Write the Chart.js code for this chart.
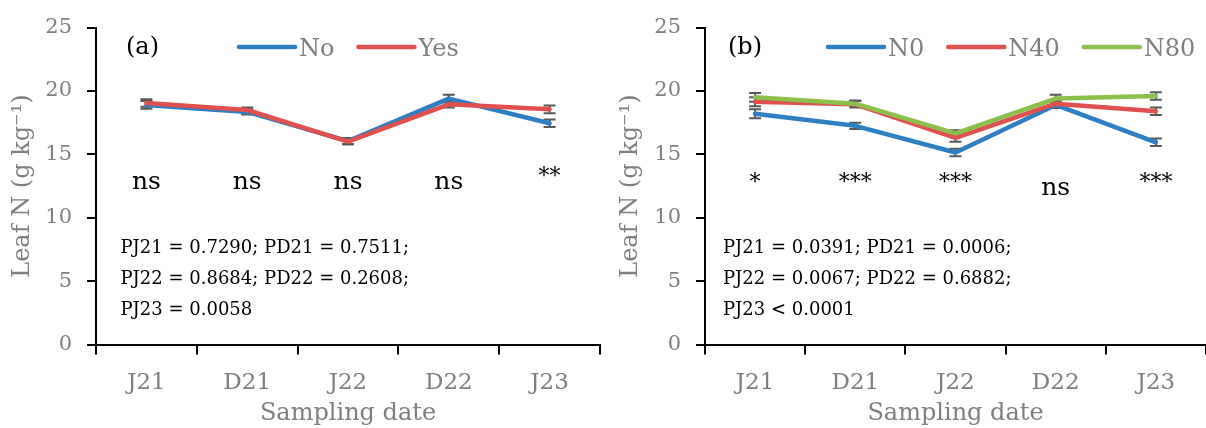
<!DOCTYPE html>
<html>
<head>
<meta charset="utf-8">
<script src="https://cdn.jsdelivr.net/npm/chart.js@4.4.1/dist/chart.umd.min.js"></script>
<style>
  html, body { margin: 0; padding: 0; background: #fff; }
  #wrap { position: relative; width: 1206px; height: 428px; overflow: hidden; }
  canvas { position: absolute; top: 0; }
  #chartA { left: 0; }
  #chartB { left: 603px; }
</style>
</head>
<body>
<div id="wrap">
  <canvas id="chartA" width="603" height="428"></canvas>
  <canvas id="chartB" width="603" height="428"></canvas>
</div>
<script>
// sampling dates and y ticks
const dates = ['J21', 'D21', 'J22', 'D22', 'J23'];
const yMin = 0, yMax = 25, yStep = 5;

// panel (a) - No / Yes
const noMeans  = [18.9, 18.35, 16.05, 19.4, 17.45];
const noErr    = [0.3, 0.2, 0.25, 0.3, 0.3];
const yesMeans = [19.05, 18.5, 16.0, 18.95, 18.55];
const yesErr   = [0.3, 0.2, 0.2, 0.25, 0.3];
const sigA = ['ns', 'ns', 'ns', 'ns', '**'];
const notesA = ['PJ21 = 0.7290; PD21 = 0.7511;', 'PJ22 = 0.8684; PD22 = 0.2608;', 'PJ23 = 0.0058'];

// panel (b) - N0 / N40 / N80
const n0Means  = [18.2, 17.25, 15.15, 18.9, 15.95];
const n0Err    = [0.35, 0.25, 0.3, 0.25, 0.3];
const n40Means = [19.15, 18.95, 16.3, 19.0, 18.4];
const n40Err   = [0.35, 0.25, 0.3, 0.3, 0.3];
const n80Means = [19.5, 19.0, 16.65, 19.4, 19.6];
const n80Err   = [0.35, 0.25, 0.25, 0.3, 0.3];
const sigB = ['*', '***', '***', 'ns', '***'];
const notesB = ['PJ21 = 0.0391; PD21 = 0.0006;', 'PJ22 = 0.0067; PD22 = 0.6882;', 'PJ23 < 0.0001'];

const BLUE = '#2E7EC4', RED = '#E0504F', GREEN = '#8CBF4C';
const GREY = '#7f7f7f';
const FONT = '"DejaVu Serif", serif';

// error bars under the lines
const errorBars = {
  id: 'errorBars',
  beforeDatasetsDraw(chart) {
    const { ctx, scales: { x, y } } = chart;
    ctx.save();
    ctx.strokeStyle = '#595959';
    ctx.lineWidth = 2;
    chart.data.datasets.forEach(ds => {
      ds.data.forEach((v, i) => {
        const e = ds.errors[i];
        const px = x.getPixelForValue(i);
        const top = y.getPixelForValue(v + e);
        const bot = y.getPixelForValue(v - e);
        ctx.beginPath();
        ctx.moveTo(px, top); ctx.lineTo(px, bot);
        ctx.moveTo(px - 6, top); ctx.lineTo(px + 6, top);
        ctx.moveTo(px - 6, bot); ctx.lineTo(px + 6, bot);
        ctx.stroke();
      });
    });
    ctx.restore();
  }
};

// panel letter, legend, significance marks and p-values
const panelNotes = {
  id: 'panelNotes',
  afterDraw(chart, args, o) {
    const { ctx, chartArea, scales: { x, y } } = chart;
    ctx.save();
    ctx.fillStyle = '#000';
    ctx.textBaseline = 'alphabetic';

    ctx.font = '24px ' + FONT;
    ctx.textAlign = 'left';
    ctx.fillText(o.letter, chartArea.left + o.letterDx, 54);

    // legend
    let lx = chartArea.left + o.legendDx;
    ctx.font = '24px ' + FONT;
    chart.data.datasets.forEach(ds => {
      ctx.strokeStyle = ds.borderColor;
      ctx.lineWidth = 4.5;
      ctx.lineCap = 'round';
      ctx.beginPath();
      ctx.moveTo(lx, 47);
      ctx.lineTo(lx + 56, 47);
      ctx.stroke();
      ctx.fillStyle = GREY;
      ctx.fillText(ds.label, lx + 60, 56);
      lx += 60 + ctx.measureText(ds.label).width + 24;
    });

    // significance (asterisks sit a little higher than in DejaVu)
    ctx.fillStyle = '#000';
    ctx.textAlign = 'center';
    o.sig.forEach((s, i) => {
      const ns = s === 'ns';
      ctx.font = (ns ? '25px ' : '22px ') + FONT;
      ctx.fillText(s, x.getPixelForValue(i), y.getPixelForValue(o.sigAt) - (ns ? 0 : 6));
    });

    // p-values
    ctx.textAlign = 'left';
    ctx.font = '18px ' + FONT;
    o.notes.forEach((t, i) => {
      ctx.fillText(t, chartArea.left + o.notesDx, 253 + i * 31);
    });
    ctx.restore();
  }
};

function makePanel(id, datasets, p) {
  return new Chart(document.getElementById(id), {
    type: 'line',
    data: { labels: dates, datasets },
    plugins: [errorBars, panelNotes],
    options: {
      responsive: false,
      animation: false,
      layout: { padding: { top: 23.5, right: p.padRight, left: 0, bottom: 0 } },
      elements: {
        line: { borderWidth: 4.5, tension: 0, borderCapStyle: 'round', borderJoinStyle: 'round' },
        point: { radius: 0 }
      },
      scales: {
        x: {
          offset: true,
          grid: { offset: true, drawOnChartArea: false, color: '#000', lineWidth: 2, tickLength: 10 },
          border: { color: '#000', width: 2 },
          ticks: { color: GREY, font: { family: FONT, size: 23 }, padding: 15 },
          title: { display: true, text: 'Sampling date', color: GREY, font: { family: FONT, size: 24 }, padding: { top: 0, bottom: 0 } },
          afterFit: s => { s.height = 83.5; }
        },
        y: {
          min: yMin, max: yMax,
          grid: { drawOnChartArea: false, color: '#000', lineWidth: 2, tickLength: 9 },
          border: { color: '#000', width: 2 },
          ticks: { stepSize: yStep, color: GREY, font: { family: FONT, size: 21 }, padding: 15 },
          title: { display: true, text: 'Leaf N (g kg⁻¹)', color: GREY, font: { family: FONT, size: 24 }, padding: { top: p.yTitlePad, bottom: 0 } },
          afterFit: s => { s.width = p.axisLeft; }
        }
      },
      plugins: {
        legend: { display: false },
        tooltip: { enabled: false },
        panelNotes: p.notes
      }
    }
  });
}

makePanel('chartA', [
  { label: 'No', data: noMeans, errors: noErr, borderColor: BLUE, backgroundColor: BLUE, order: 2 },
  { label: 'Yes', data: yesMeans, errors: yesErr, borderColor: RED, backgroundColor: RED, order: 1 }
], {
  padRight: 3, axisLeft: 96, yTitlePad: 8.6,
  notes: { letter: '(a)', letterDx: 30, legendDx: 143, sig: sigA, sigAt: 12.3, notes: notesA, notesDx: 24.5 }
});

makePanel('chartB', [
  { label: 'N0', data: n0Means, errors: n0Err, borderColor: BLUE, backgroundColor: BLUE, order: 3 },
  { label: 'N40', data: n40Means, errors: n40Err, borderColor: RED, backgroundColor: RED, order: 2 },
  { label: 'N80', data: n80Means, errors: n80Err, borderColor: GREEN, backgroundColor: GREEN, order: 1 }
], {
  padRight: 0, axisLeft: 102, yTitlePad: 13,
  notes: { letter: '(b)', letterDx: 23, legendDx: 123, sig: sigB, sigAt: 11.8, notes: notesB, notesDx: 18 }
});
</script>
</body>
</html>
